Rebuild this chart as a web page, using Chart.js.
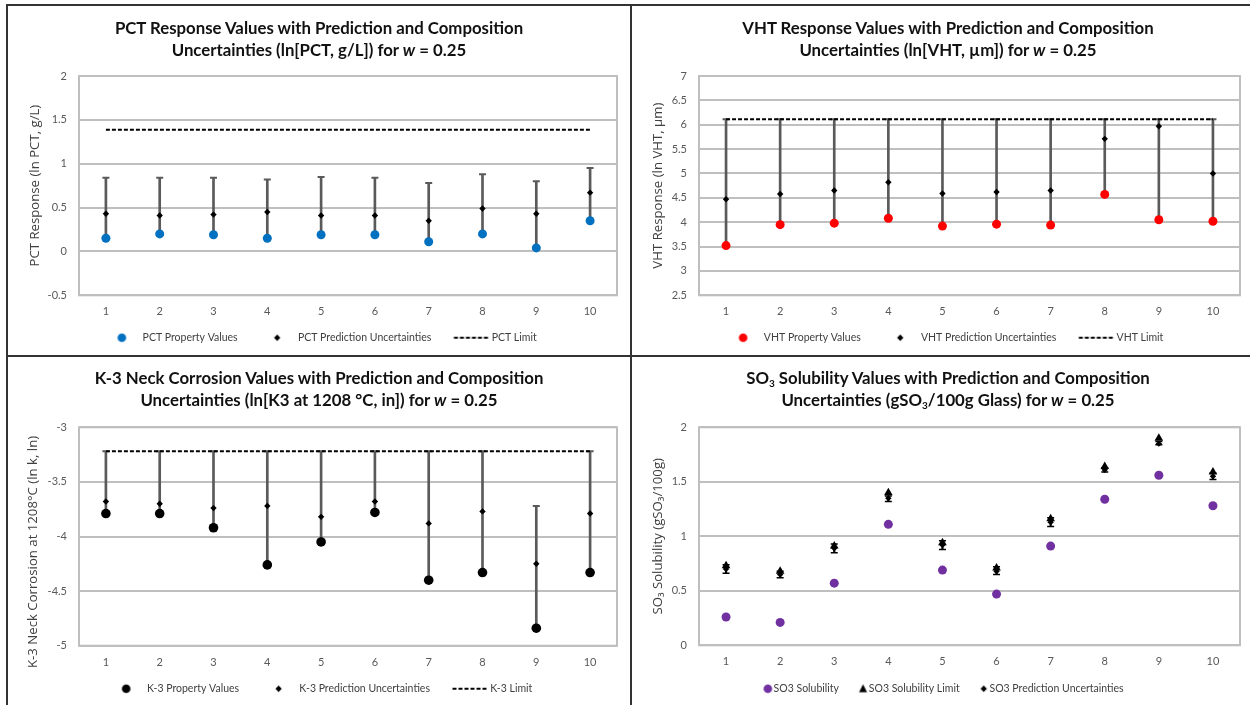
<!DOCTYPE html>
<html><head><meta charset="utf-8">
<script src="https://cdn.jsdelivr.net/npm/chart.js@4.4.1/dist/chart.umd.min.js"></script>
<style>
html,body{margin:0;padding:0;background:#fff;}
body{width:1250px;height:705px;position:relative;overflow:hidden;}
canvas{position:absolute;z-index:1;}
.title{position:absolute;text-align:center;font-family:Lato,sans-serif;font-weight:bold;font-size:16.8px;line-height:22px;color:#111;z-index:2;white-space:nowrap;}
.title sub{font-size:10px;vertical-align:-3px;line-height:0;}
.rule{position:absolute;background:#333;z-index:3;}
</style></head><body>
<div class="rule" style="left:6px;top:4px;width:1244px;height:2px"></div>
<div class="rule" style="left:6px;top:4px;width:2px;height:701px"></div>
<div class="rule" style="left:630px;top:4px;width:2px;height:701px"></div>
<div class="rule" style="left:6px;top:355px;width:1244px;height:2px"></div>

<div class="title" style="left:7px;top:17px;width:624px">PCT Response Values with Prediction and Composition<br>Uncertainties (ln[PCT, g/L]) for <i>w</i> = 0.25</div>
<div class="title" style="left:632px;top:17px;width:632px">VHT Response Values with Prediction and Composition<br>Uncertainties (ln[VHT, µm]) for <i>w</i> = 0.25</div>
<div class="title" style="left:7px;top:367px;width:624px">K-3 Neck Corrosion Values with Prediction and Composition<br>Uncertainties (ln[K3 at 1208 °C, in]) for <i>w</i> = 0.25</div>
<div class="title" style="left:632px;top:367px;width:632px">SO<sub>3</sub> Solubility Values with Prediction and Composition<br>Uncertainties (gSO<sub>3</sub>/100g Glass) for <i>w</i> = 0.25</div>

<canvas id="c1" width="623" height="348" style="left:7px;top:5px"></canvas>
<canvas id="c2" width="618" height="348" style="left:632px;top:5px"></canvas>
<canvas id="c3" width="623" height="347" style="left:7px;top:357px"></canvas>
<canvas id="c4" width="618" height="347" style="left:632px;top:357px"></canvas>

<script>
const categories = ['1','2','3','4','5','6','7','8','9','10'];

// PCT (ln[PCT, g/L])
const pctProperty   = [0.15, 0.20, 0.19, 0.15, 0.19, 0.19, 0.11, 0.20, 0.04, 0.35];
const pctPrediction = [0.43, 0.41, 0.42, 0.45, 0.41, 0.41, 0.35, 0.49, 0.43, 0.67];
const pctUpper      = [0.84, 0.84, 0.84, 0.82, 0.85, 0.84, 0.78, 0.88, 0.80, 0.95];
const pctLimit      = [1.386, 1.386, 1.386, 1.386, 1.386, 1.386, 1.386, 1.386, 1.386, 1.386];

// VHT (ln[VHT, um])
const vhtProperty   = [3.52, 3.95, 3.98, 4.08, 3.92, 3.96, 3.94, 4.57, 4.05, 4.02];
const vhtPrediction = [4.47, 4.58, 4.65, 4.82, 4.59, 4.62, 4.65, 5.71, 5.97, 5.00];
const vhtUpper      = [6.11, 6.11, 6.11, 6.11, 6.11, 6.11, 6.11, 6.11, 6.11, 6.11];
const vhtLimit      = [6.11, 6.11, 6.11, 6.11, 6.11, 6.11, 6.11, 6.11, 6.11, 6.11];

// K-3 (ln[K3 at 1208 C, in])
const k3Property   = [-3.79, -3.79, -3.92, -4.26, -4.05, -3.78, -4.40, -4.33, -4.84, -4.33];
const k3Prediction = [-3.68, -3.70, -3.74, -3.72, -3.82, -3.68, -3.88, -3.77, -4.25, -3.79];
const k3Upper      = [-3.22, -3.22, -3.22, -3.22, -3.22, -3.22, -3.22, -3.22, -3.72, -3.22];
const k3Limit      = [-3.22, -3.22, -3.22, -3.22, -3.22, -3.22, -3.22, -3.22, -3.22, -3.22];

// SO3 (gSO3/100g glass)
const so3Solubility = [0.26, 0.21, 0.57, 1.11, 0.69, 0.47, 0.91, 1.34, 1.56, 1.28];
const so3Limit      = [0.73, 0.68, 0.91, 1.40, 0.94, 0.71, 1.16, 1.64, 1.90, 1.59];
const so3Prediction = [0.70, 0.65, 0.89, 1.35, 0.92, 0.68, 1.13, 1.61, 1.85, 1.55];
const so3Low        = [0.66, 0.62, 0.85, 1.32, 0.88, 0.65, 1.09, 1.59, 1.84, 1.52];
const so3High       = [0.74, 0.68, 0.93, 1.37, 0.96, 0.72, 1.17, 1.63, 1.87, 1.58];

const GRID = '#bfbfbf', TICK = '#595959', TXT = '#404040', BAR = '#5a5a5a';

function sym(kind, color, w, h, cx, x2) {
  const c = document.createElement('canvas');
  c.width = w; c.height = h;
  const g = c.getContext('2d');
  const cy = h / 2;
  g.fillStyle = color; g.strokeStyle = color;
  g.beginPath();
  if (kind === 'circle') { g.arc(cx, cy, 4.3, 0, Math.PI * 2); g.fill(); }
  else if (kind === 'diamond') { g.moveTo(cx, cy - 3.2); g.lineTo(cx + 3.2, cy); g.lineTo(cx, cy + 3.2); g.lineTo(cx - 3.2, cy); g.closePath(); g.fill(); }
  else if (kind === 'triangle') { g.moveTo(cx, cy - 4.5); g.lineTo(cx + 4, cy + 3.5); g.lineTo(cx - 4, cy + 3.5); g.closePath(); g.fill(); }
  else if (kind === 'dash') { g.lineWidth = 2; g.setLineDash([4, 2]); g.moveTo(cx, cy); g.lineTo(x2, cy); g.stroke(); }
  return c;
}

const framePlugin = {
  id: 'frame',
  beforeDatasetsDraw(chart) {
    const {ctx, chartArea: {left, top, right, bottom}} = chart;
    ctx.save();
    ctx.strokeStyle = GRID; ctx.lineWidth = 2;
    ctx.strokeRect(left, top, right - left, bottom - top);
    ctx.restore();
  }
};

function buildChart(id, p) {
  return new Chart(document.getElementById(id), {
    type: 'bar',
    data: { labels: categories, datasets: p.datasets },
    plugins: [framePlugin],
    options: {
      responsive: false, animation: false, events: [],
      layout: { padding: p.padding },
      plugins: {
        title: { display: false },
        tooltip: { enabled: false },
        legend: {
          position: 'bottom',
          labels: {
            usePointStyle: true, pointStyleWidth: p.legendBox, padding: p.legendPad,
            color: TXT, font: { family: 'Lato', size: 10.5 },
            generateLabels: (chart) => Chart.defaults.plugins.legend.labels.generateLabels(chart)
              .filter(it => chart.data.datasets[it.datasetIndex].legendSymbol)
              .map(it => Object.assign(it, { pointStyle: chart.data.datasets[it.datasetIndex].legendSymbol }))
          }
        }
      },
      scales: {
        x: {
          grid: { display: false, drawTicks: false }, border: { display: false },
          ticks: { color: TICK, font: { family: 'Lato', size: 11 }, padding: 10, maxRotation: 0, autoSkip: false },
          afterFit: s => { s.height = p.xHeight; }
        },
        y: {
          min: p.min, max: p.max,
          grid: { color: GRID, lineWidth: 2, drawTicks: false }, border: { display: false },
          ticks: { stepSize: p.step, color: TICK, font: { family: 'Lato', size: 11 }, padding: 12,
                   callback: v => String(parseFloat(Number(v).toFixed(2))) },
          title: { display: true, text: p.yTitle, color: TXT, font: { family: 'Open Sans', size: 13.2 }, padding: { top: p.yTitlePad, bottom: 0 } },
          afterFit: s => { s.width = p.yWidth; }
        }
      }
    }
  });
}

function responseSets(name, dotColor, dotRadius, prop, pred, upper, limit) {
  return [
    { type: 'line', label: name + ' Property Values', data: prop, showLine: false, pointStyle: 'circle', pointRadius: dotRadius,
      pointBackgroundColor: dotColor, pointBorderWidth: 0, order: 1, legendSymbol: sym('circle', dotColor, 60, 14, 39.5) },
    { type: 'line', label: name + ' Prediction Uncertainties', data: pred, showLine: false, pointStyle: 'rectRot', pointRadius: 3.2,
      pointBackgroundColor: '#000', pointBorderWidth: 0, order: 2, legendSymbol: sym('diamond', '#000', 60, 14, 39.5) },
    { type: 'line', label: name + ' Limit', data: limit, borderColor: '#000', borderWidth: 2, borderDash: [4, 2], pointRadius: 0,
      fill: false, order: 3, legendSymbol: sym('dash', '#000', 60, 14, 22.5, 57.5) },
    { type: 'line', label: 'caps', data: upper, showLine: false, pointStyle: 'line', pointRadius: 3.5,
      pointBorderColor: BAR, pointBorderWidth: 2, order: 4 },
    { type: 'bar', label: 'bars', data: prop.map((v, i) => [v, upper[i]]), backgroundColor: BAR, barThickness: 2, order: 5 }
  ];
}

buildChart('c1', {
  datasets: responseSets('PCT', '#0070C0', 4.5, pctProperty, pctPrediction, pctUpper, pctLimit),
  padding: { top: 71, right: 13, left: 0, bottom: 0 }, xHeight: 32.2, yWidth: 72, yTitlePad: 20.4,
  min: -0.5, max: 2, step: 0.5, yTitle: 'PCT Response (ln PCT, g/L)', legendBox: 50, legendPad: 5
});

buildChart('c2', {
  datasets: responseSets('VHT', '#FF0000', 4.5, vhtProperty, vhtPrediction, vhtUpper, vhtLimit),
  padding: { top: 71, right: 10, left: 0, bottom: 0 }, xHeight: 32.2, yWidth: 67, yTitlePad: 18.4,
  min: 2.5, max: 7, step: 0.5, yTitle: 'VHT Response (ln VHT, µm)', legendBox: 50, legendPad: 5
});

buildChart('c3', {
  datasets: responseSets('K-3', '#000000', 4.8, k3Property, k3Prediction, k3Upper, k3Limit),
  padding: { top: 70.3, right: 13, left: 0, bottom: 0 }, xHeight: 32.8, yWidth: 72, yTitlePad: 18.6,
  min: -5, max: -3, step: 0.5, yTitle: 'K-3 Neck Corrosion at 1208°C (ln k, ln)         ', legendBox: 50, legendPad: 5
});

buildChart('c4', {
  datasets: [
    { type: 'line', label: 'SO3 Solubility', data: so3Solubility, showLine: false, pointStyle: 'circle', pointRadius: 4.5,
      pointBackgroundColor: '#7030A0', pointBorderWidth: 0, order: 1, legendSymbol: sym('circle', '#7030A0', 40, 14, 29.5) },
    { type: 'line', label: 'SO3 Solubility Limit', data: so3Limit, showLine: false, pointStyle: 'triangle', pointRadius: 5,
      pointBackgroundColor: '#000', pointBorderWidth: 0, order: 2, legendSymbol: sym('triangle', '#000', 40, 14, 29.5) },
    { type: 'line', label: 'SO3 Prediction Uncertainties', data: so3Prediction, showLine: false, pointStyle: 'rectRot', pointRadius: 3.2,
      pointBackgroundColor: '#000', pointBorderWidth: 0, order: 3, legendSymbol: sym('diamond', '#000', 40, 14, 29.5) },
    { type: 'line', label: 'capLow', data: so3Low, showLine: false, pointStyle: 'line', pointRadius: 3.5,
      pointBorderColor: '#000', pointBorderWidth: 1.5, order: 4 },
    { type: 'line', label: 'capHigh', data: so3High, showLine: false, pointStyle: 'line', pointRadius: 3.5,
      pointBorderColor: '#000', pointBorderWidth: 1.5, order: 4 },
    { type: 'bar', label: 'bars', data: so3Low.map((v, i) => [v, so3High[i]]), backgroundColor: '#000', barThickness: 1.5, order: 5 }
  ],
  padding: { top: 70.3, right: 10, left: 0, bottom: 0 }, xHeight: 33.7, yWidth: 67, yTitlePad: 18.4,
  min: 0, max: 2, step: 0.5, yTitle: 'SO₃ Solubility (gSO₃/100g)', legendBox: 20, legendPad: 4.5
});
</script>
</body></html>
